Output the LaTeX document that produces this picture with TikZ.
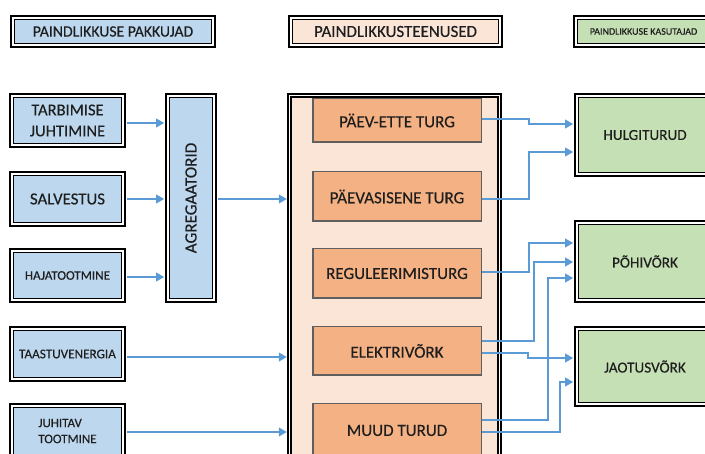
\documentclass[tikz,border=0pt]{standalone}
\usepackage{fontspec}
\setmainfont{Carlito}[FakeBold=0.35]
\usepackage{graphicx}
\usetikzlibrary{arrows.meta,calc}
\definecolor{bluefill}{HTML}{BDD7EE}
\definecolor{peach}{HTML}{FBE5D6}
\definecolor{orangefill}{HTML}{F4B183}
\definecolor{greenfill}{HTML}{C5E0B4}
\definecolor{arrowblue}{HTML}{5B9BD5}
\definecolor{txt}{HTML}{1E1E1E}
\definecolor{obord}{HTML}{5F5F5F}
\tikzset{
  dbox/.style={draw=black, double=white, double distance=1.8pt, line width=1.8pt,
    inner sep=0pt, text=txt, align=center},
  bluebox/.style={dbox, fill=bluefill},
  greenbox/.style={dbox, fill=greenfill, minimum width=136.6pt},
  orangebox/.style={draw=obord, line width=1.5pt, fill=orangefill, inner sep=0pt,
    minimum width=168.5pt, text=txt, font=\fontsize{17}{20}\selectfont},
  conn/.style={draw=arrowblue, line width=2pt, -{Triangle[length=8pt,width=8.5pt]}},
  dconn/.style={conn, shorten >=2.6pt, shorten <=2.6pt},
  rconn/.style={conn, shorten >=2.6pt},
}
\begin{document}
\begin{tikzpicture}[x=1pt,y=-1pt]
\useasboundingbox (0,0) rectangle (705,454);
\clip (0,0) rectangle (705,454);
% legend
\node[bluebox, minimum width=200.6pt, minimum height=27.6pt, font=\fontsize{15.7}{18}\selectfont] (legA) at (113,31.5) {PAINDLIKKUSE PAKKUJAD};
\node[dbox, fill=peach, minimum width=209.6pt, minimum height=27.6pt, font=\fontsize{16.9}{18}\selectfont] (legB) at (395.5,31.5) {PAINDLIKKUSTEENUSED};
\node[dbox, fill=greenfill, minimum width=135.6pt, minimum height=27.6pt, font=\fontsize{10}{12}\selectfont] (legC) at (643.5,31.5) {PAINDLIKKUSE KASUTAJAD};
% left column
\node[bluebox, minimum width=111.6pt, minimum height=49.6pt, font=\fontsize{16.5}{21}\selectfont] (tj) at (67.5,120.5) {TARBIMISE\\JUHTIMINE};
\node[bluebox, minimum width=111.6pt, minimum height=50.6pt, font=\fontsize{16.8}{20}\selectfont] (sal) at (67.5,199) {SALVESTUS};
\node[bluebox, minimum width=111.6pt, minimum height=49.6pt, font=\fontsize{13.1}{16}\selectfont] (haj) at (67.5,275.5) {HAJATOOTMINE};
\node[bluebox, minimum width=111.6pt, minimum height=50.6pt, font=\fontsize{13.2}{16}\selectfont] (taas) at (67.5,354) {TAASTUVENERGIA};
\node[bluebox, minimum width=111.6pt, minimum height=50.6pt, font=\fontsize{13}{16}\selectfont, align=left] (juh) at (67.5,431) {JUHITAV\\TOOTMINE};
\node[bluebox, minimum width=46.6pt, minimum height=204.6pt, font=\fontsize{17.1}{20}\selectfont] (agg) at (191,198) {\rotatebox{90}{AGREGAATORID}};
% container
\node[fill=peach, minimum width=209.6pt, minimum height=381.6pt, inner sep=0pt] (cont) at (394.5,286.5) {};
\node[orangebox, minimum height=43.5pt] (pe) at (397,120.5) {PÄEV-ETTE TURG};
\node[orangebox, minimum height=49.5pt] (ps) at (397,196.5) {PÄEVASISENE TURG};
\node[orangebox, minimum height=49.5pt] (reg) at (397,273.5) {REGULEERIMISTURG};
\node[orangebox, minimum height=48.5pt] (el) at (397,351) {ELEKTRIVÕRK};
\node[orangebox, minimum height=53.5pt] (mt) at (397,430.5) {MUUD TURUD};
\draw[draw=black, double=white, double distance=1.8pt, line width=1.8pt] (cont.north west) rectangle (cont.south east);
% right column
\node[greenbox, minimum height=78.6pt, font=\fontsize{15.2}{18}\selectfont] (hul) at (645,135) {HULGITURUD};
\node[greenbox, minimum height=77.6pt, font=\fontsize{15.2}{18}\selectfont] (poh) at (645,261.5) {PÕHIVÕRK};
\node[greenbox, minimum height=75.6pt, font=\fontsize{15.2}{18}\selectfont] (jao) at (645,366.5) {JAOTUSVÕRK};
% connectors left
\draw[dconn] ($(tj.east)+(0,2.5)$) -- ($(tj.east -| agg.west)+(0,2.5)$);
\draw[dconn] (sal.east) -- (sal.east -| agg.west);
\draw[dconn] ($(haj.east)+(0,1.5)$) -- ($(haj.east -| agg.west)+(0,1.5)$);
\draw[dconn] ($(agg.east)+(0,1)$) -- ($(agg.east -| cont.west)+(0,1)$);
\draw[dconn] ($(taas.east)+(0,3)$) -- ($(taas.east -| cont.west)+(0,3)$);
\draw[dconn] ($(juh.east)+(0,1)$) -- ($(juh.east -| cont.west)+(0,1)$);
% connectors right
\draw[rconn] ($(pe.east)+(0,-1.5)$) -- ++(47,0) |- ($(hul.west)+(0,-11)$);
\draw[rconn] ($(ps.east)+(0,2.5)$) -- ++(47,0) |- ($(hul.west)+(0,17)$);
\draw[rconn] ($(reg.east)+(0,-1.5)$) -- ++(47,0) |- ($(poh.west)+(0,-18.5)$);
\draw[rconn] ($(el.east)+(0,-10)$) -- ++(52,0) |- ($(poh.west)+(0,0.5)$);
\draw[rconn] ($(el.east)+(0,2)$) -- ++(46,0) |- ($(jao.west)+(0,-8.5)$);
\draw[rconn] ($(mt.east)+(0,-10.5)$) -- ++(66,0) |- ($(poh.west)+(0,16.5)$);
\draw[rconn] ($(mt.east)+(0,1.5)$) -- ++(78,0) |- ($(jao.west)+(0,15.5)$);
\end{tikzpicture}
\end{document}
